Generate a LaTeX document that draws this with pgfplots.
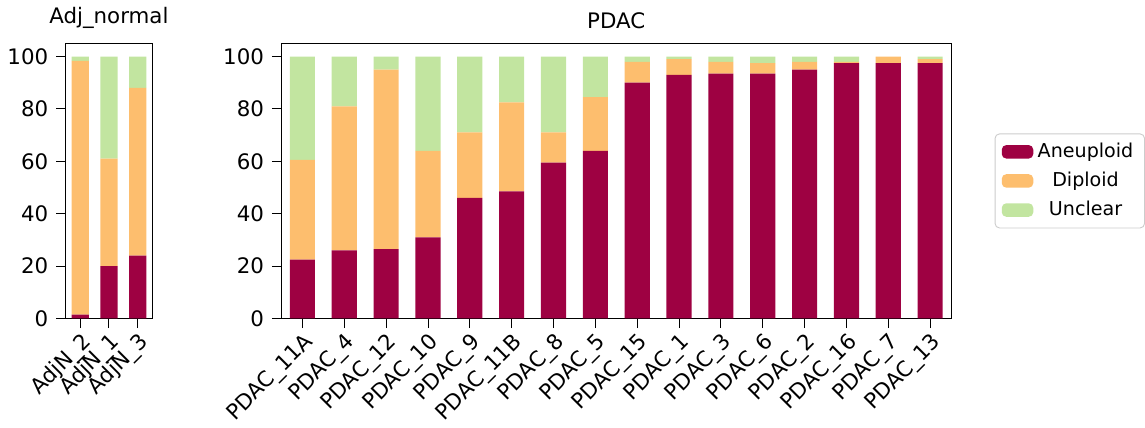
\documentclass[border=0pt]{standalone}
\usepackage{pgfplots}
\pgfplotsset{compat=1.18}
\usepackage{fontspec}
\setmainfont{DejaVu Sans}
\definecolor{an}{HTML}{9E0142}
\definecolor{di}{HTML}{FDBE6E}
\definecolor{un}{HTML}{C2E5A0}
\begin{document}
\begin{tikzpicture}
\pgfplotsset{every axis/.style={scale only axis, height=122.4pt, ybar stacked, bar width=0.6,
 ymin=0, ymax=105, ytick={0,20,40,60,80,100}, font=\fontsize{9.5}{11}\selectfont,
 /pgf/number format/assume math mode=true, tick align=outside, tick style={black, thin},
 xtick=data, x tick label style={rotate=45, anchor=north east, inner sep=1pt},
 title style={yshift=-3pt}, axis line style={thin}, ytick pos=left, xtick pos=bottom,
 every axis plot/.append style={draw=none}}}
\begin{axis}[name=L, width=38.4pt, xmin=-0.5, xmax=2.5,
 title={Adj\_normal}, xticklabels={AdjN\_2,AdjN\_1,AdjN\_3}]
\addplot[fill=an] coordinates {(0,1.5) (1,20) (2,24)};
\addplot[fill=di] coordinates {(0,96.8) (1,41) (2,64)};
\addplot[fill=un] coordinates {(0,1.7) (1,39) (2,12)};
\end{axis}
\begin{axis}[at={(L.south east)}, xshift=57.6pt, anchor=south west, width=298pt, xmin=-0.5, xmax=15.5,
 title={PDAC}, xticklabels={PDAC\_11A,PDAC\_4,PDAC\_12,PDAC\_10,PDAC\_9,PDAC\_11B,PDAC\_8,PDAC\_5,PDAC\_15,PDAC\_1,PDAC\_3,PDAC\_6,PDAC\_2,PDAC\_16,PDAC\_7,PDAC\_13},
 legend style={at={(1.065,0.5)}, anchor=west, draw=black!20, rounded corners=2pt, font=\fontsize{8.5}{10}\selectfont, row sep=1pt},
 legend image code/.code={\fill[#1] (0pt,-3pt) rectangle (14pt,3pt);}]
\addplot[fill=an] coordinates {(0,22.5)(1,26)(2,26.5)(3,31)(4,46)(5,48.5)(6,59.5)(7,64)(8,90)(9,93)(10,93.5)(11,93.5)(12,95)(13,97.5)(14,97.5)(15,97.5)};
\addplot[fill=di] coordinates {(0,38)(1,55)(2,68.5)(3,33)(4,25)(5,34)(6,11.5)(7,20.5)(8,8)(9,6)(10,4.5)(11,4)(12,3)(13,0.5)(14,2.5)(15,1.5)};
\addplot[fill=un] coordinates {(0,39.5)(1,19)(2,5)(3,36)(4,29)(5,17.5)(6,29)(7,15.5)(8,2)(9,1)(10,2)(11,2.5)(12,2)(13,2)(14,0)(15,1)};
\legend{Aneuploid,Diploid,Unclear}
\end{axis}
\end{tikzpicture}
\end{document}
